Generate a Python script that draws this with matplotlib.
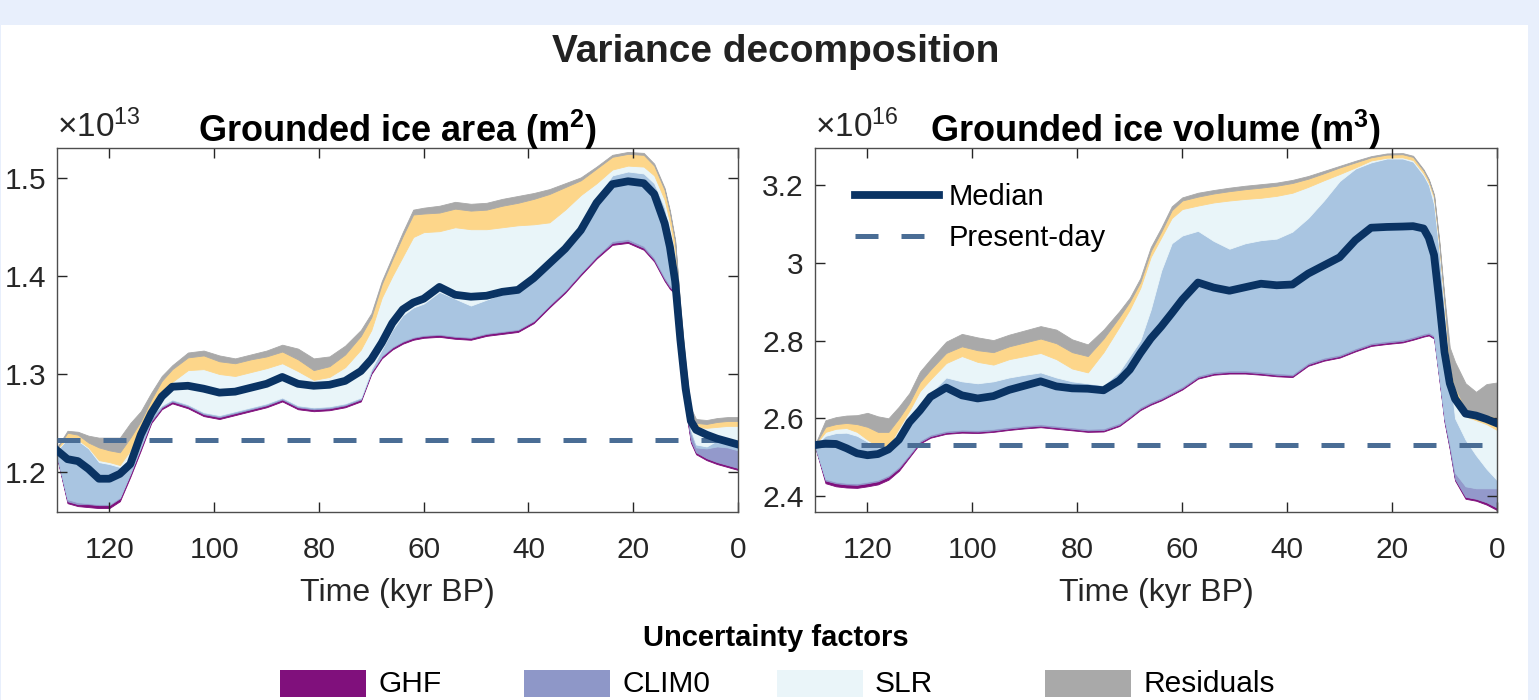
import numpy as np
import matplotlib
matplotlib.use("Agg")
import matplotlib.pyplot as plt
from matplotlib.patches import Rectangle
from matplotlib.ticker import FormatStrFormatter

plt.rcParams['font.family'] = ['Liberation Sans', 'DejaVu Sans']
plt.rcParams['mathtext.default'] = 'regular'

# time axis (kyr BP)
time_kyr = [130, 128, 126, 124, 122, 120, 118, 116, 114, 112,
            110, 108, 105, 102, 99, 96, 93, 90, 87, 84,
            81, 78, 75, 72, 70, 68, 66, 64, 62, 60,
            57, 54, 51, 48, 45, 42, 39, 36, 33, 30,
            27, 24, 21, 18, 16, 14, 13, 12, 11, 10,
            9, 8, 6, 4, 2, 0]

# grounded ice area, units of 1e13 m^2
area_present = 1.233
area_median = [1.222, 1.213, 1.211, 1.203, 1.193, 1.193, 1.198, 1.208, 1.238, 1.260,
               1.277, 1.287, 1.288, 1.285, 1.281, 1.282, 1.286, 1.290, 1.297, 1.290,
               1.288, 1.289, 1.293, 1.303, 1.315, 1.332, 1.352, 1.366, 1.373, 1.377,
               1.389, 1.381, 1.379, 1.380, 1.384, 1.386, 1.398, 1.413, 1.428, 1.447,
               1.475, 1.494, 1.497, 1.495, 1.484, 1.454, 1.430, 1.395, 1.335, 1.285,
               1.252, 1.243, 1.238, 1.234, 1.231, 1.228]
area_lo = [1.215, 1.168, 1.165, 1.164, 1.163, 1.163, 1.170, 1.195, 1.222, 1.250,
           1.264, 1.270, 1.265, 1.257, 1.254, 1.258, 1.262, 1.266, 1.272, 1.264,
           1.262, 1.263, 1.266, 1.272, 1.300, 1.316, 1.325, 1.331, 1.335, 1.337,
           1.338, 1.336, 1.335, 1.339, 1.341, 1.343, 1.352, 1.368, 1.383, 1.401,
           1.418, 1.432, 1.434, 1.427, 1.415, 1.395, 1.387, 1.382, 1.317, 1.265,
           1.230, 1.218, 1.212, 1.208, 1.205, 1.202]
area_ghf = [1.216, 1.170, 1.167, 1.167, 1.166, 1.166, 1.173, 1.198, 1.225, 1.252,
            1.266, 1.272, 1.267, 1.259, 1.256, 1.260, 1.264, 1.268, 1.274, 1.266,
            1.264, 1.265, 1.268, 1.274, 1.302, 1.318, 1.327, 1.333, 1.337, 1.339,
            1.340, 1.338, 1.337, 1.341, 1.343, 1.345, 1.354, 1.370, 1.385, 1.403,
            1.420, 1.434, 1.436, 1.429, 1.417, 1.397, 1.389, 1.384, 1.319, 1.267,
            1.232, 1.220, 1.214, 1.210, 1.207, 1.204]
area_clim = [1.217, 1.172, 1.169, 1.168, 1.167, 1.167, 1.174, 1.199, 1.226, 1.254,
             1.267, 1.273, 1.268, 1.260, 1.257, 1.261, 1.265, 1.269, 1.275, 1.267,
             1.265, 1.266, 1.269, 1.275, 1.303, 1.319, 1.328, 1.334, 1.338, 1.340,
             1.341, 1.339, 1.338, 1.342, 1.344, 1.346, 1.355, 1.371, 1.386, 1.404,
             1.421, 1.436, 1.438, 1.431, 1.419, 1.399, 1.391, 1.386, 1.322, 1.272,
             1.240, 1.225, 1.224, 1.226, 1.225, 1.222]
area_ocn = [1.222, 1.234, 1.232, 1.224, 1.210, 1.208, 1.205, 1.210, 1.236, 1.258,
            1.268, 1.274, 1.269, 1.261, 1.258, 1.262, 1.266, 1.270, 1.276, 1.268,
            1.266, 1.267, 1.270, 1.276, 1.305, 1.325, 1.345, 1.360, 1.368, 1.372,
            1.384, 1.377, 1.370, 1.376, 1.382, 1.384, 1.396, 1.411, 1.428, 1.448,
            1.480, 1.503, 1.507, 1.505, 1.495, 1.470, 1.445, 1.415, 1.350, 1.290,
            1.243, 1.228, 1.226, 1.232, 1.229, 1.226]
area_slr = [1.223, 1.235, 1.233, 1.225, 1.212, 1.210, 1.207, 1.222, 1.244, 1.265,
            1.282, 1.292, 1.304, 1.305, 1.300, 1.298, 1.302, 1.306, 1.311, 1.303,
            1.294, 1.297, 1.307, 1.325, 1.345, 1.378, 1.400, 1.420, 1.440, 1.445,
            1.446, 1.450, 1.448, 1.448, 1.450, 1.452, 1.453, 1.455, 1.468, 1.483,
            1.495, 1.509, 1.513, 1.512, 1.503, 1.478, 1.455, 1.425, 1.360, 1.302,
            1.258, 1.246, 1.245, 1.246, 1.247, 1.247]
area_yel = [1.224, 1.240, 1.238, 1.230, 1.225, 1.222, 1.220, 1.235, 1.252, 1.274,
            1.293, 1.305, 1.317, 1.319, 1.313, 1.311, 1.315, 1.318, 1.323, 1.315,
            1.304, 1.308, 1.320, 1.339, 1.358, 1.392, 1.417, 1.441, 1.463, 1.464,
            1.465, 1.469, 1.467, 1.468, 1.472, 1.475, 1.479, 1.484, 1.491, 1.498,
            1.510, 1.522, 1.525, 1.524, 1.513, 1.488, 1.465, 1.435, 1.366, 1.308,
            1.262, 1.250, 1.249, 1.251, 1.252, 1.252]
area_hi = [1.225, 1.242, 1.241, 1.237, 1.235, 1.235, 1.235, 1.250, 1.262, 1.281,
           1.298, 1.309, 1.322, 1.324, 1.319, 1.316, 1.320, 1.324, 1.330, 1.326,
           1.316, 1.318, 1.329, 1.345, 1.362, 1.395, 1.420, 1.445, 1.468, 1.470,
           1.472, 1.476, 1.474, 1.475, 1.479, 1.482, 1.485, 1.489, 1.495, 1.501,
           1.512, 1.524, 1.527, 1.526, 1.515, 1.490, 1.467, 1.437, 1.368, 1.310,
           1.265, 1.254, 1.253, 1.255, 1.256, 1.256]

# grounded ice volume, units of 1e16 m^3
vol_present = 2.531
vol_median = [2.531, 2.535, 2.534, 2.523, 2.510, 2.505, 2.508, 2.520, 2.545, 2.590,
              2.620, 2.655, 2.679, 2.659, 2.651, 2.657, 2.673, 2.684, 2.695, 2.682,
              2.677, 2.676, 2.672, 2.697, 2.725, 2.767, 2.805, 2.836, 2.870, 2.905,
              2.949, 2.936, 2.928, 2.937, 2.946, 2.942, 2.944, 2.972, 2.993, 3.014,
              3.058, 3.090, 3.092, 3.093, 3.094, 3.088, 3.064, 3.020, 2.900, 2.770,
              2.690, 2.650, 2.612, 2.607, 2.598, 2.587]
vol_lo = [2.528, 2.433, 2.425, 2.422, 2.421, 2.425, 2.430, 2.442, 2.465, 2.500,
          2.535, 2.550, 2.560, 2.563, 2.562, 2.565, 2.570, 2.574, 2.577, 2.573,
          2.569, 2.565, 2.566, 2.580, 2.600, 2.621, 2.635, 2.646, 2.660, 2.674,
          2.702, 2.712, 2.715, 2.715, 2.712, 2.708, 2.706, 2.735, 2.748, 2.756,
          2.772, 2.786, 2.791, 2.795, 2.802, 2.810, 2.813, 2.805, 2.700, 2.590,
          2.520, 2.440, 2.393, 2.388, 2.378, 2.364]
vol_ghf = [2.529, 2.440, 2.433, 2.430, 2.429, 2.433, 2.438, 2.450, 2.472, 2.505,
           2.539, 2.554, 2.564, 2.567, 2.566, 2.569, 2.574, 2.578, 2.581, 2.577,
           2.573, 2.569, 2.570, 2.584, 2.604, 2.625, 2.639, 2.650, 2.664, 2.678,
           2.706, 2.716, 2.719, 2.719, 2.716, 2.712, 2.710, 2.739, 2.752, 2.760,
           2.776, 2.790, 2.795, 2.799, 2.806, 2.814, 2.817, 2.809, 2.704, 2.594,
           2.524, 2.444, 2.398, 2.393, 2.384, 2.370]
vol_clim = [2.530, 2.444, 2.437, 2.434, 2.433, 2.437, 2.442, 2.454, 2.476, 2.509,
            2.543, 2.558, 2.568, 2.571, 2.570, 2.573, 2.578, 2.582, 2.585, 2.581,
            2.577, 2.573, 2.574, 2.588, 2.608, 2.629, 2.643, 2.654, 2.668, 2.682,
            2.710, 2.720, 2.723, 2.723, 2.720, 2.716, 2.714, 2.743, 2.756, 2.764,
            2.780, 2.794, 2.799, 2.803, 2.810, 2.818, 2.821, 2.813, 2.708, 2.600,
            2.535, 2.460, 2.425, 2.420, 2.420, 2.420]
vol_ocn = [2.530, 2.555, 2.562, 2.563, 2.555, 2.540, 2.525, 2.527, 2.560, 2.595,
           2.630, 2.665, 2.705, 2.695, 2.690, 2.695, 2.705, 2.712, 2.718, 2.705,
           2.695, 2.690, 2.685, 2.720, 2.760, 2.800, 2.880, 2.980, 3.050, 3.070,
           3.082, 3.056, 3.036, 3.050, 3.058, 3.062, 3.080, 3.115, 3.160, 3.210,
           3.242, 3.258, 3.268, 3.268, 3.260, 3.225, 3.200, 3.150, 3.030, 2.880,
           2.720, 2.600, 2.545, 2.505, 2.470, 2.441]
vol_slr = [2.531, 2.565, 2.573, 2.575, 2.565, 2.545, 2.528, 2.528, 2.575, 2.620,
           2.670, 2.700, 2.742, 2.760, 2.745, 2.738, 2.752, 2.760, 2.768, 2.752,
           2.728, 2.718, 2.770, 2.835, 2.880, 2.935, 3.015, 3.065, 3.115, 3.138,
           3.147, 3.155, 3.160, 3.164, 3.167, 3.172, 3.180, 3.195, 3.212, 3.228,
           3.245, 3.263, 3.270, 3.271, 3.264, 3.230, 3.205, 3.166, 3.044, 2.893,
           2.730, 2.665, 2.605, 2.595, 2.585, 2.570]
vol_yel = [2.532, 2.578, 2.585, 2.588, 2.585, 2.578, 2.565, 2.565, 2.600, 2.640,
           2.693, 2.725, 2.768, 2.785, 2.775, 2.770, 2.785, 2.795, 2.805, 2.793,
           2.770, 2.760, 2.805, 2.860, 2.900, 2.950, 3.030, 3.080, 3.135, 3.160,
           3.170, 3.178, 3.184, 3.189, 3.193, 3.198, 3.205, 3.216, 3.230, 3.245,
           3.258, 3.271, 3.278, 3.279, 3.272, 3.237, 3.212, 3.172, 3.050, 2.900,
           2.740, 2.680, 2.625, 2.612, 2.610, 2.602]
vol_hi = [2.532, 2.595, 2.603, 2.607, 2.608, 2.614, 2.605, 2.600, 2.630, 2.665,
          2.720, 2.752, 2.797, 2.817, 2.808, 2.801, 2.815, 2.826, 2.837, 2.828,
          2.803, 2.790, 2.828, 2.875, 2.910, 2.960, 3.040, 3.090, 3.145, 3.168,
          3.180, 3.187, 3.193, 3.198, 3.202, 3.206, 3.213, 3.223, 3.236, 3.249,
          3.262, 3.274, 3.281, 3.282, 3.275, 3.240, 3.215, 3.175, 3.056, 2.910,
          2.782, 2.745, 2.690, 2.668, 2.688, 2.692]

factor_names = ['GHF', 'CLIM0', 'SLR', 'Residuals']
factor_colors = ['#80107c', '#8e97c8', '#eaf5f9', '#a9a9a9']
band_colors = ['#80107c', '#9399cb', '#a9c5e1', '#e9f5f9', '#fdd68a', '#a9a9a9']

MEDIAN_C = '#0a3363'
PRESENT_C = '#4a6d95'
TXT = '#262626'

fig = plt.figure(figsize=(15.39, 7.0), dpi=100, facecolor='#e8effc')
fig.patches.append(Rectangle((1 / 1539, 0), 1527 / 1539, 675 / 700,
                             transform=fig.transFigure, facecolor='white',
                             edgecolor='none', zorder=-10))

W, H = 1539, 700


def panel(rect, bounds, median, present, ylim, yticks, exp, title, show_legend):
    ax = fig.add_axes(rect)
    t = np.array(time_kyr)
    for k in range(len(bounds) - 1):
        ax.fill_between(t, bounds[k], bounds[k + 1], color=band_colors[k],
                        lw=0.6, edgecolor=band_colors[k])
    ax.axhline(present, color=PRESENT_C, lw=3.6, dashes=(4.6, 4.6),
               label='Present-day', zorder=3)
    ax.plot(t, median, color=MEDIAN_C, lw=5.6, label='Median', zorder=4,
            solid_joinstyle='round')
    ax.set_xlim(130, 0)
    ax.set_ylim(*ylim)
    ax.set_xticks([120, 100, 80, 60, 40, 20, 0])
    ax.set_yticks(yticks)
    ax.yaxis.set_major_formatter(FormatStrFormatter('%g'))
    ax.tick_params(direction='in', length=7, width=1.0, top=True, right=True,
                   labelsize=21.5, colors=TXT, labelcolor=TXT)
    ax.tick_params(axis='x', pad=17)
    ax.tick_params(axis='y', pad=8)
    for s in ax.spines.values():
        s.set_color('#4d4d4d')
        s.set_linewidth(1.0)
    ax.set_xlabel('Time (kyr BP)', fontsize=23, color=TXT, labelpad=10)
    ax.set_title(title, fontsize=26, fontweight='bold', pad=4)
    ax.text(0.0, 1.01, '×10$^{%d}$' % exp, transform=ax.transAxes,
            ha='left', va='bottom', fontsize=24, color=TXT)
    if show_legend:
        h, l = ax.get_legend_handles_labels()
        ax.legend(h[::-1], l[::-1], loc='upper left', bbox_to_anchor=(0.02, 0.975),
                  frameon=False, fontsize=21, handlelength=2.9, handletextpad=0.3,
                  labelspacing=0.45)
    return ax


area_bounds = [area_lo, area_ghf, area_clim, area_ocn, area_slr, area_yel, area_hi]
vol_bounds = [vol_lo, vol_ghf, vol_clim, vol_ocn, vol_slr, vol_yel, vol_hi]

panel([57 / W, 188 / H, 681 / W, 364 / H], area_bounds, area_median, area_present,
      (1.159, 1.531), [1.2, 1.3, 1.4, 1.5], 13,
      'Grounded ice area (m$^{2}$)', False)
panel([815 / W, 188 / H, 682 / W, 364 / H], vol_bounds, vol_median, vol_present,
      (2.359, 3.295), [2.4, 2.6, 2.8, 3.0, 3.2], 16,
      'Grounded ice volume (m$^{3}$)', True)

fig.text(776 / W, 1 - 52 / H, 'Variance decomposition', ha='center', va='center',
         fontsize=28, fontweight='bold', color='#222222')

# bottom legend
fig.text(776 / W, 1 - 638 / H, 'Uncertainty factors', ha='center', va='center',
         fontsize=21, fontweight='bold', color='black')
patch_x = [280, 524, 777, 1045]
for px, name, col in zip(patch_x, factor_names, factor_colors):
    fig.patches.append(Rectangle((px / W, 1 - 697 / H), 86 / W, 27 / H,
                                 transform=fig.transFigure, facecolor=col,
                                 edgecolor='none'))
    fig.text((px + 98) / W, 1 - 684 / H, name, ha='left', va='center',
             fontsize=21.5, color='black')

fig.savefig('out.png', dpi=100, facecolor=fig.get_facecolor())
